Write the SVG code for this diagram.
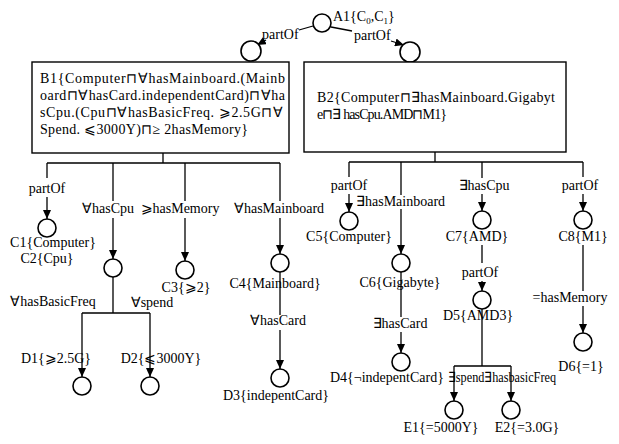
<svg xmlns="http://www.w3.org/2000/svg" width="619" height="444" viewBox="0 0 619 444">
<defs>
<marker id="ah" markerWidth="9" markerHeight="8" refX="9" refY="4" orient="auto" markerUnits="userSpaceOnUse">
<path d="M0,0 L9,4 L0,8 z" fill="#000"/>
</marker>
<style>
.t{font-family:"Liberation Serif","Times New Roman",serif;font-size:14px;fill:#000}
.m{text-anchor:middle}
.c{fill:#fff;stroke:#000;stroke-width:1.6}
.b{fill:#fff;stroke:#000;stroke-width:1.4}
.l{fill:none;stroke:#000;stroke-width:1.3}
.a{fill:none;stroke:#000;stroke-width:1.3;marker-end:url(#ah)}
</style>
</defs>
<rect width="619" height="444" fill="#fff"/>

<g id="connectors">
<path class="l" d="M313,26 L299,30"/>
<text class="t" x="262" y="39">partOf</text>
<path class="a" d="M266,40 L257,45"/>
<path class="l" d="M331,27 L352,31"/>
<text class="t" x="354" y="40">partOf</text>
<path class="a" d="M391,41 L404,45"/>

<path class="l" d="M163,153 V163 M47,163 H280"/>
<path class="l" d="M47,163 V178"/>
<text class="t m" x="47" y="193">partOf</text>
<path class="a" d="M47,197 V219"/>
<path class="l" d="M113,163 V201"/>
<text class="t m" x="108" y="213">∀hasCpu</text>
<path class="a" d="M113,218 V259"/>
<path class="l" d="M113,277 V313 M82,313 H150"/>
<path class="a" d="M82,313 V377"/>
<path class="a" d="M150,313 V377"/>
<text class="t m" x="53" y="306">∀hasBasicFreq</text>
<text class="t m" x="152" y="307">∀spend</text>
<path class="l" d="M185,163 V201"/>
<text class="t m" x="180" y="213">⩾hasMemory</text>
<path class="a" d="M185,218 V261"/>
<path class="l" d="M280,163 V201"/>
<text class="t m" x="279" y="213">∀hasMainboard</text>
<path class="a" d="M280,218 V254"/>
<path class="l" d="M280,272 V315"/>
<text class="t m" x="278" y="325">∀hasCard</text>
<path class="a" d="M280,330 V369"/>

<path class="l" d="M435,152 V162 M349,162 H583"/>
<path class="l" d="M349,162 V177"/>
<text class="t m" x="349" y="190">partOf</text>
<path class="a" d="M349,194 V212"/>
<text class="t" x="356" y="206">∃hasMainboard</text>
<path class="l" d="M401,162 V195"/>
<path class="a" d="M401,209 V254"/>
<path class="l" d="M401,272 V317"/>
<text class="t m" x="400" y="328">∃hasCard</text>
<path class="a" d="M401,332 V353"/>
<path class="l" d="M482,162 V178"/>
<text class="t m" x="484" y="190">∃hasCpu</text>
<path class="a" d="M482,194 V211"/>
<path class="l" d="M482,245 V263"/>
<text class="t m" x="480" y="277">partOf</text>
<path class="a" d="M482,281 V291"/>
<path class="l" d="M482,309 V366 M454,366 H511"/>
<path class="a" d="M454,366 V401"/>
<path class="a" d="M511,366 V401"/>
<text class="t" x="448" y="382" font-size="13.5" textLength="108" lengthAdjust="spacingAndGlyphs">∃spend∃hasbasicFreq</text>
<path class="l" d="M583,162 V177"/>
<text class="t m" x="580" y="190">partOf</text>
<path class="a" d="M583,194 V211"/>
<path class="l" d="M583,245 V291"/>
<text class="t m" x="570" y="302">=hasMemory</text>
<path class="a" d="M583,306 V333"/>
</g>

<g id="A1">
<circle class="c" cx="322" cy="23" r="9"/>
<text class="t" x="333" y="21">A1{C<tspan font-size="9" dy="3">0</tspan><tspan dy="-3">,C</tspan><tspan font-size="9" dy="3">1</tspan><tspan dy="-3">}</tspan></text>
</g>

<g id="B1">
<circle class="c" cx="251" cy="51" r="10"/>
<rect class="b" x="32" y="62" width="257" height="91"/>
<text class="t" x="40" y="83" textLength="245" lengthAdjust="spacing">B1{Computer⊓∀hasMainboard.(Mainb</text>
<text class="t" x="40" y="100" textLength="245" lengthAdjust="spacing">oard⊓∀hasCard.independentCard)⊓∀ha</text>
<text class="t" x="40" y="117" textLength="243" lengthAdjust="spacing">sCpu.(Cpu⊓∀hasBasicFreq. ⩾2.5G⊓∀</text>
<text class="t" x="40" y="134" textLength="208" lengthAdjust="spacing">Spend. ⩽3000Y)⊓≥ 2hasMemory}</text>
</g>

<g id="B2">
<circle class="c" cx="410" cy="52" r="10"/>
<rect class="b" x="304" y="62" width="262" height="90"/>
<text class="t" x="317" y="102" textLength="238" lengthAdjust="spacing">B2{Computer⊓∃hasMainboard.Gigabyt</text>
<text class="t" x="317" y="119" textLength="130" lengthAdjust="spacing">e⊓∃ hasCpu.AMD⊓M1}</text>
</g>

<g id="C1">
<circle class="c" cx="47" cy="228" r="9"/>
<text class="t m" x="53" y="247">C1{Computer}</text>
<text class="t m" x="47" y="263">C2{Cpu}</text>
</g>
<g id="Ncpu"><circle class="c" cx="113" cy="268" r="9"/></g>
<g id="C3"><circle class="c" cx="185" cy="270" r="9"/><text class="t m" x="186" y="292">C3{⩾2}</text></g>
<g id="C4"><circle class="c" cx="280" cy="263" r="9"/><text class="t m" x="275" y="288">C4{Mainboard}</text></g>
<g id="D1"><text class="t m" x="56" y="363">D1{⩾2.5G}</text><circle class="c" cx="82" cy="386" r="9"/></g>
<g id="D2"><text class="t m" x="161" y="363">D2{⩽3000Y}</text><circle class="c" cx="150" cy="386" r="9"/></g>
<g id="D3"><circle class="c" cx="280" cy="378" r="9"/><text class="t m" x="276" y="400">D3{indepentCard}</text></g>

<g id="C5"><circle class="c" cx="349" cy="221" r="9"/><text class="t m" x="349" y="241">C5{Computer}</text></g>
<g id="C6"><circle class="c" cx="401" cy="263" r="9"/><text class="t m" x="400" y="287">C6{Gigabyte}</text></g>
<g id="D4"><circle class="c" cx="401" cy="362" r="9"/><text class="t" x="330" y="382">D4{¬indepentCard}</text></g>
<g id="C7"><circle class="c" cx="482" cy="220" r="9"/><text class="t m" x="477" y="241">C7{AMD}</text></g>
<g id="D5"><circle class="c" cx="482" cy="300" r="9"/><text class="t m" x="478" y="320">D5{AMD3}</text></g>
<g id="E1"><circle class="c" cx="454" cy="410" r="9"/><text class="t m" x="441" y="432">E1{=5000Y}</text></g>
<g id="E2"><circle class="c" cx="511" cy="410" r="9"/><text class="t m" x="527" y="432">E2{=3.0G}</text></g>
<g id="C8"><circle class="c" cx="583" cy="220" r="9"/><text class="t m" x="583" y="241">C8{M1}</text></g>
<g id="D6"><circle class="c" cx="583" cy="342" r="9"/><text class="t m" x="581" y="371">D6{=1}</text></g>
</svg>
